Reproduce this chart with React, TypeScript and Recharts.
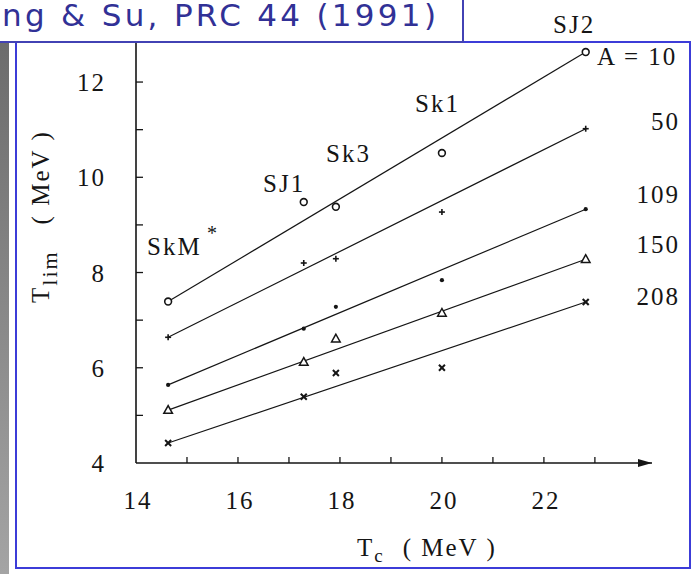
import { ComposedChart, Scatter, XAxis, YAxis, ReferenceDot } from "recharts";

// Tc (MeV) of each Skyrme force
const FORCES = ["SkM*", "SJ1", "Sk3", "Sk1", "SJ2"];
const TC = [14.63, 17.29, 17.92, 20.0, 22.82];

// T_lim (MeV) per nucleus mass A
const A10 = [7.39, 9.48, 9.38, 10.51, 12.63];
const A50 = [6.64, 8.2, 8.29, 9.27, 11.02];
const A109 = [5.64, 6.82, 7.28, 7.84, 9.33];
const A150 = [5.11, 6.12, 6.61, 7.15, 8.28];
const A208 = [4.42, 5.39, 5.89, 6.0, 7.38];

const X_TICKS = [14, 15, 16, 17, 18, 19, 20, 21, 22, 23];
const Y_TICKS = [4, 5, 6, 7, 8, 9, 10, 11, 12];
const X_MAX = 24.12;
const Y_MAX = 12.82;

const INK = "#151515";
const SERIF = "'Liberation Serif', serif";

type MarkerKind = "circle" | "plus" | "dot" | "triangle" | "cross";

const SERIES: { a: string; values: number[]; marker: MarkerKind }[] = [
  { a: "10", values: A10, marker: "circle" },
  { a: "50", values: A50, marker: "plus" },
  { a: "109", values: A109, marker: "dot" },
  { a: "150", values: A150, marker: "triangle" },
  { a: "208", values: A208, marker: "cross" },
];

function toRows(values: number[]) {
  return values.map((v, i) => ({ x: TC[i], y: v, force: FORCES[i] }));
}

function makeMarker(kind: MarkerKind) {
  return (p: any) => {
    const { cx, cy } = p;
    if (cx == null || cy == null) return <g />;
    switch (kind) {
      case "circle":
        return <circle cx={cx} cy={cy} r={3.4} fill="#fff" stroke={INK} strokeWidth={1.6} />;
      case "plus":
        return (
          <g stroke={INK} strokeWidth={1.6}>
            <line x1={cx - 3} x2={cx + 3} y1={cy} y2={cy} />
            <line x1={cx} x2={cx} y1={cy - 3} y2={cy + 3} />
          </g>
        );
      case "dot":
        return <circle cx={cx} cy={cy} r={2.1} fill={INK} />;
      case "triangle":
        return (
          <polygon
            points={`${cx},${cy - 4.5} ${cx - 4.3},${cy + 3.2} ${cx + 4.3},${cy + 3.2}`}
            fill="#fff"
            stroke={INK}
            strokeWidth={1.5}
          />
        );
      default:
        return (
          <g stroke={INK} strokeWidth={2}>
            <line x1={cx - 3} x2={cx + 3} y1={cy - 3} y2={cy + 3} />
            <line x1={cx - 3} x2={cx + 3} y1={cy + 3} y2={cy - 3} />
          </g>
        );
    }
  };
}

const serifText = { fontFamily: SERIF, fontSize: 25, letterSpacing: 2, fill: INK };

const XTick = (props: any) => {
  const { x, y, payload } = props;
  const v = payload.value;
  return (
    <g>
      {v !== 14 && <line x1={x} x2={x} y1={y} y2={y - 6} stroke={INK} strokeWidth={1.3} />}
      {v % 2 === 0 && (
        <text x={x + 2} y={y + 46} textAnchor="middle" style={serifText}>
          {v}
        </text>
      )}
    </g>
  );
};

const YTick = (props: any) => {
  const { x, y, payload } = props;
  const v = payload.value;
  return (
    <g>
      {v !== 4 && <line x1={x} x2={x + 7} y1={y} y2={y} stroke={INK} strokeWidth={1.3} />}
      {v % 2 === 0 && (
        <text x={x - 30} y={y + 9} textAnchor="end" style={serifText}>
          {v}
        </text>
      )}
    </g>
  );
};

const Arrow = (p: any) => {
  const { cx, cy } = p;
  return <polygon points={`${cx},${cy} ${cx - 14},${cy - 4} ${cx - 14},${cy + 4}`} fill={INK} />;
};

export default function App() {
  return (
    <div style={{ position: "absolute", left: 0, top: 0, width: 700, height: 574, background: "#fff", overflow: "hidden" }}>
      <svg width={700} height={574} style={{ position: "absolute", left: 0, top: 0 }}>
        <defs>
          <linearGradient id="bar" x1="0" y1="0" x2="0" y2="1">
            <stop offset="0%" stopColor="#6c6c6c" />
            <stop offset="100%" stopColor="#a4a4a4" />
          </linearGradient>
        </defs>
        <rect x={0} y={43} width={9} height={531} fill="url(#bar)" />
        <rect x={16} y={42} width={674} height={526} fill="none" stroke="#3c3cd8" strokeWidth={2} />
      </svg>

      <div style={{ position: "absolute", left: 0, top: 0 }}>
        <ComposedChart width={700} height={574} margin={{ top: 43, right: 48, bottom: 71, left: 76 }}>
          <XAxis
            type="number"
            dataKey="x"
            domain={[14, X_MAX]}
            ticks={X_TICKS}
            interval={0}
            height={40}
            tickSize={0}
            tickMargin={0}
            tickLine={false}
            axisLine={{ stroke: INK, strokeWidth: 1.6 }}
            tick={<XTick />}
          />
          <YAxis
            type="number"
            dataKey="y"
            domain={[4, Y_MAX]}
            ticks={Y_TICKS}
            interval={0}
            width={60}
            tickSize={0}
            tickMargin={0}
            tickLine={false}
            axisLine={{ stroke: INK, strokeWidth: 1.6 }}
            tick={<YTick />}
          />
          {SERIES.map((s) => {
            const rows = toRows(s.values);
            return (
              <Scatter
                key={`fit-${s.a}`}
                data={[rows[0], rows[rows.length - 1]]}
                line={{ stroke: INK, strokeWidth: 1.2 }}
                shape={() => <g />}
                isAnimationActive={false}
              />
            );
          })}
          {SERIES.map((s) => (
            <Scatter
              key={`pts-${s.a}`}
              data={toRows(s.values)}
              shape={makeMarker(s.marker)}
              isAnimationActive={false}
            />
          ))}
          <ReferenceDot x={X_MAX} y={4} ifOverflow="visible" shape={<Arrow />} />
        </ComposedChart>
      </div>

      <svg width={700} height={574} style={{ position: "absolute", left: 0, top: 0, pointerEvents: "none" }}>
        {/* source tag */}
        <rect x={-2} y={-2} width={465} height={44} fill="#fff" stroke="#4242b4" strokeWidth={2} />
        <text
          x={2}
          y={26}
          style={{ fontFamily: "'DejaVu Sans', Verdana, sans-serif", fontSize: 31, fill: "#313196" }}
          textLength={434}
          lengthAdjust="spacing"
        >
          ng &amp; Su, PRC 44 (1991)
        </text>

        {/* force names */}
        <text x={147} y={255} style={serifText}>SkM</text>
        <text x={207} y={240} style={{ ...serifText, fontSize: 20 }}>*</text>
        <text x={263} y={192} style={serifText}>SJ1</text>
        <text x={326} y={162} style={serifText}>Sk3</text>
        <text x={415} y={112} style={serifText}>Sk1</text>
        <text x={553} y={33} style={serifText}>SJ2</text>

        {/* mass numbers */}
        <text x={597} y={65} style={serifText}>A = 10</text>
        <text x={680} y={130} textAnchor="end" style={serifText}>50</text>
        <text x={680} y={203} textAnchor="end" style={serifText}>109</text>
        <text x={680} y={253} textAnchor="end" style={serifText}>150</text>
        <text x={680} y={305} textAnchor="end" style={serifText}>208</text>

        {/* axis titles */}
        <text x={357} y={556} style={serifText}>
          T<tspan style={{ fontSize: 19 }} dy={6}>c</tspan>
          <tspan dx={18} dy={-6}>( MeV )</tspan>
        </text>
        <text x={49} y={303} transform="rotate(-90 49 303)" style={serifText}>
          T<tspan style={{ fontSize: 22 }} dy={8}>lim</tspan>
          <tspan dx={26} dy={-8}>( MeV )</tspan>
        </text>
      </svg>
    </div>
  );
}
